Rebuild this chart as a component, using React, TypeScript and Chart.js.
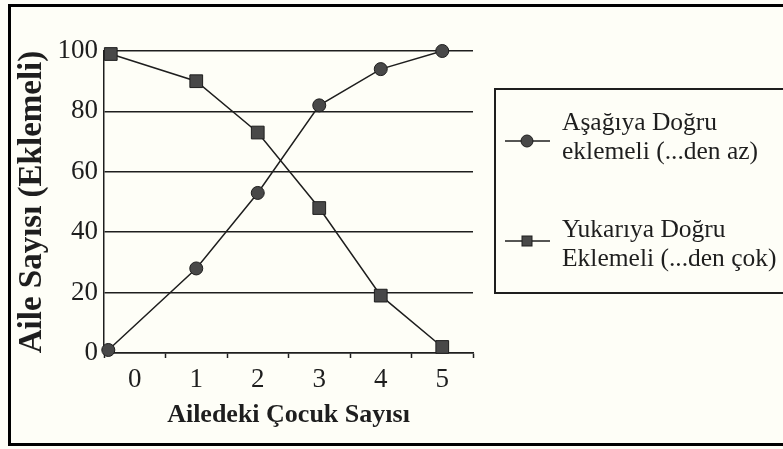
import React, { useEffect, useRef } from 'react';
import { Chart, registerables } from 'chart.js';

Chart.register(...registerables);

// ---- data ----
const xTickLabels = ['0', '1', '2', '3', '4', '5'];
const yTickStep = 20;
const yMin = 0;
const yMax = 100;
const lessThanX = [-0.43, 1, 2, 3, 4, 5];
const lessThanY = [1, 28, 53, 82, 94, 100];
const moreThanX = [-0.39, 1, 2, 3, 4, 5];
const moreThanY = [99, 90, 73, 48, 19, 2];
const lessThanLabel = ['Aşağıya Doğru', 'eklemeli (...den az)'];
const moreThanLabel = ['Yukarıya Doğru', 'Eklemeli (...den çok)'];
const xTitle = 'Ailedeki Çocuk Sayısı';
const yTitle = 'Aile Sayısı (Eklemeli)';

const INK = '#1e1e1e';
const MARK = '#484848';
const PAPER = '#fefef7';
const SERIF = '"Liberation Serif", "Times New Roman", serif';

const paperPlugin = {
  id: 'paper',
  beforeDraw(chart: any) {
    const { ctx, width, height } = chart;
    ctx.save();
    ctx.fillStyle = PAPER;
    ctx.fillRect(0, 0, width, height);
    ctx.restore();
  },
  afterDraw(chart: any) {
    const ctx = chart.ctx;
    ctx.save();
    // outer frame
    ctx.strokeStyle = '#000';
    ctx.lineWidth = 3;
    ctx.strokeRect(9.5, 5.5, 800, 439);

    // legend box
    ctx.lineWidth = 2;
    ctx.strokeStyle = INK;
    ctx.strokeRect(495, 89, 320, 204);

    ctx.font = `25.5px ${SERIF}`;
    ctx.fillStyle = INK;
    ctx.textBaseline = 'middle';
    ctx.textAlign = 'left';
    const firstLines = [123, 230];
    const symbolY = [141, 241];
    const lineGap = 29.5;
    chart.data.datasets.forEach((ds: any, i: number) => {
      const lines: string[] = ds.legendLines;
      lines.forEach((t, j) => ctx.fillText(t, 562, firstLines[i] + j * lineGap));
      const sy = symbolY[i];
      ctx.beginPath();
      ctx.strokeStyle = INK;
      ctx.lineWidth = 1.5;
      ctx.moveTo(505, sy);
      ctx.lineTo(550, sy);
      ctx.stroke();
      ctx.fillStyle = MARK;
      ctx.strokeStyle = INK;
      ctx.lineWidth = 1;
      if (ds.pointStyle === 'rect') {
        ctx.fillRect(522, sy - 5, 10, 10);
        ctx.strokeRect(522, sy - 5, 10, 10);
      } else {
        ctx.beginPath();
        ctx.arc(527, sy, 6, 0, Math.PI * 2);
        ctx.fill();
        ctx.stroke();
      }
      ctx.fillStyle = INK;
    });
    ctx.restore();
  },
};

export default function App() {
  const ref = useRef<HTMLCanvasElement | null>(null);

  useEffect(() => {
    if (!ref.current) return;
    const toPoints = (xs: number[], ys: number[]) => xs.map((x, i) => ({ x, y: ys[i] }));
    const chart = new Chart(ref.current, {
      type: 'line',
      data: {
        datasets: [
          {
            label: lessThanLabel.join(' '),
            legendLines: lessThanLabel,
            data: toPoints(lessThanX, lessThanY),
            borderColor: INK,
            borderWidth: 1.5,
            pointStyle: 'circle',
            pointRadius: 6.5,
            pointBackgroundColor: MARK,
            pointBorderColor: INK,
            pointBorderWidth: 1,
            tension: 0,
            clip: false,
          } as any,
          {
            label: moreThanLabel.join(' '),
            legendLines: moreThanLabel,
            data: toPoints(moreThanX, moreThanY),
            borderColor: INK,
            borderWidth: 1.5,
            pointStyle: 'rect',
            pointRadius: 9,
            pointBackgroundColor: MARK,
            pointBorderColor: INK,
            pointBorderWidth: 1,
            tension: 0,
            clip: false,
          } as any,
        ],
      },
      options: {
        animation: false,
        responsive: false,
        layout: { padding: { left: 13, top: 51, right: 310, bottom: 18 } },
        plugins: {
          legend: { display: false },
          tooltip: { enabled: false },
        },
        scales: {
          x: {
            type: 'linear',
            position: 'bottom',
            min: -0.5,
            max: xTickLabels.length - 0.5,
            afterBuildTicks: (scale: any) => {
              const ticks: any[] = [];
              for (let i = 0; i <= xTickLabels.length * 2; i++) ticks.push({ value: -0.5 + i * 0.5 });
              scale.ticks = ticks;
            },
            afterFit: (scale: any) => {
              scale.height = 78;
            },
            ticks: {
              autoSkip: false,
              maxRotation: 0,
              padding: 6,
              color: INK,
              font: { family: SERIF, size: 27 },
              callback: (v: any) => (Number.isInteger(v) ? xTickLabels[v] : ''),
            },
            grid: {
              drawOnChartArea: false,
              drawTicks: true,
              tickLength: 5,
              tickWidth: 1.5,
              tickColor: (ctx: any) => (ctx.tick && Number.isInteger(ctx.tick.value) ? 'rgba(0,0,0,0)' : INK),
            },
            border: { display: true, color: INK, width: 1.5 },
            title: {
              display: true,
              text: xTitle,
              color: INK,
              font: { family: SERIF, size: 26, weight: 'bold' },
              padding: { top: 0, bottom: 0 },
            },
          } as any,
          y: {
            type: 'linear',
            min: yMin,
            max: yMax,
            afterFit: (scale: any) => {
              scale.width = 91;
            },
            ticks: {
              stepSize: yTickStep,
              padding: 6,
              color: INK,
              font: { family: SERIF, size: 27 },
            },
            grid: {
              color: INK,
              lineWidth: 1.5,
              drawTicks: false,
            },
            border: { display: true, color: INK, width: 1.5 },
            title: {
              display: true,
              text: yTitle,
              color: INK,
              font: { family: SERIF, size: 33, weight: 'bold' },
              padding: { top: 0, bottom: 0 },
            },
          } as any,
        },
      },
      plugins: [paperPlugin],
    });
    return () => chart.destroy();
  }, []);

  return (
    <div style={{ position: 'absolute', left: 0, top: 0, width: 783, height: 449, background: PAPER }}>
      <canvas ref={ref} width={783} height={449} style={{ display: 'block', width: 783, height: 449 }} />
    </div>
  );
}
